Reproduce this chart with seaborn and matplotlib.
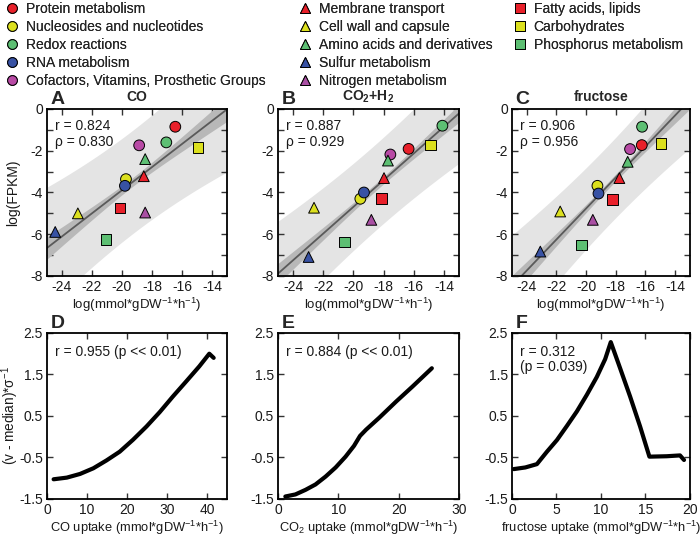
import numpy as np
import pandas as pd
import matplotlib
matplotlib.use("Agg")
import matplotlib.pyplot as plt
from matplotlib.lines import Line2D
import seaborn as sns

# ── data ─────────────────────────────────────────────────────────────────────
categories = ["Protein metabolism", "Nucleosides and nucleotides", "Redox reactions",
              "RNA metabolism", "Cofactors, Vitamins, Prosthetic Groups",
              "Membrane transport", "Cell wall and capsule", "Amino acids and derivatives",
              "Sulfur metabolism", "Nitrogen metabolism",
              "Fatty acids, lipids", "Carbohydrates", "Phosphorus metabolism"]
cat_colors = ["#E8202A", "#DCE01E", "#5DBF73", "#3852A4", "#B84AA5",
              "#E8202A", "#DCE01E", "#5DBF73", "#3852A4", "#A94FA3",
              "#E8202A", "#DCE01E", "#5DBF73"]
cat_markers = ["o"] * 5 + ["^"] * 5 + ["s"] * 3

# top row: log(flux) vs log(FPKM), one value per category
co_x = [-16.44, -19.73, -17.04, -19.80, -18.85, -18.54, -22.94, -18.45, -24.45, -18.45, -20.13, -14.93, -21.06]
co_y = [-0.85, -3.36, -1.60, -3.68, -1.74, -3.22, -5.00, -2.40, -5.89, -4.96, -4.74, -1.84, -6.24]
h2_x = [-16.34, -19.54, -14.10, -19.30, -17.55, -17.97, -22.61, -17.71, -22.97, -18.81, -18.13, -14.88, -20.60]
h2_y = [-1.91, -4.30, -0.80, -4.00, -2.18, -3.31, -4.73, -2.47, -7.09, -5.31, -4.30, -1.72, -6.37]
fru_x = [-16.25, -19.24, -16.23, -19.17, -17.04, -17.76, -21.75, -17.20, -23.09, -19.55, -18.23, -14.96, -20.29]
fru_y = [-1.73, -3.68, -0.85, -4.05, -1.92, -3.31, -4.91, -2.53, -6.83, -5.31, -4.35, -1.65, -6.51]

top_titles = ["CO", r"CO$_{\mathregular{2}}$+H$_{\mathregular{2}}$", "fructose"]
top_letters = ["A", "B", "C"]
top_stats = ["r = 0.824\nρ = 0.830", "r = 0.887\nρ = 0.929", "r = 0.906\nρ = 0.956"]

# t multipliers for the prediction band (light) and fit band (dark)
pi_t = 2.201
ci_t = 0.7

# bottom row: z-score vs uptake
co_up = [1.66, 4.97, 8.28, 11.6, 14.9, 18.2, 21.5, 24.9, 28.2, 31.5, 34.8, 38.1, 40.6, 41.7]
co_z = [-1.025, -0.985, -0.896, -0.76, -0.57, -0.36, -0.075, 0.247, 0.593, 0.97, 1.33, 1.695, 2.0, 1.9]
h2_up = [1.22, 2.89, 4.56, 6.22, 7.89, 9.56, 11.2, 12.6, 13.6, 14.6, 16.8, 19.6, 22.3, 25.5]
h2_z = [-1.44, -1.39, -1.28, -1.15, -0.96, -0.74, -0.48, -0.22, 0.02, 0.17, 0.46, 0.85, 1.21, 1.65]
fru_up = [0.19, 1.5, 2.8, 3.93, 5.05, 6.17, 7.29, 8.41, 9.53, 10.47, 11.1, 12.15, 13.27, 14.39,
          15.44, 17.38, 18.88, 19.33]
fru_z = [-0.78, -0.74, -0.66, -0.36, -0.08, 0.26, 0.61, 1.01, 1.44, 1.87, 2.28, 1.65, 0.97, 0.25,
         -0.48, -0.47, -0.45, -0.56]

bot_letters = ["D", "E", "F"]
bot_stats = ["r = 0.955 (p << 0.01)", "r = 0.884 (p << 0.01)", "r = 0.312\n(p = 0.039)"]
bot_xlabels = [r"CO uptake (mmol*gDW$^{\mathregular{-1}}$*h$^{\mathregular{-1}}$)",
               r"CO$_{\mathregular{2}}$ uptake (mmol*gDW$^{\mathregular{-1}}$*h$^{\mathregular{-1}}$)",
               r"fructose uptake (mmol*gDW$^{\mathregular{-1}}$*h$^{\mathregular{-1}}$)"]
bot_xmax = [45, 30, 20]
bot_xticks = [[0, 10, 20, 30, 40], [0, 10, 20, 30], [0, 5, 10, 15, 20]]

# ── style ────────────────────────────────────────────────────────────────────
sns.set_theme(style="ticks")
plt.rcParams["font.family"] = ["Liberation Sans", "DejaVu Sans"]
plt.rcParams["mathtext.fontset"] = "custom"
plt.rcParams["mathtext.rm"] = "Liberation Sans"
plt.rcParams["axes.unicode_minus"] = False

pal = dict(zip(categories, cat_colors))
mk = dict(zip(categories, cat_markers))
txt_col = "#1a1a1a"


def frame(ax):
    for sp in ax.spines.values():
        sp.set_visible(True)
        sp.set_linewidth(1.3)
        sp.set_color("black")
    ax.tick_params(direction="in", top=True, right=True, length=4, width=1,
                   labelsize=10, labelcolor=txt_col, color="#333333", pad=3)


fig = plt.figure(figsize=(7, 5.38), dpi=100)
lefts = [0.0671, 0.3971, 0.7314]
widths = [0.257, 0.2586, 0.2543]
xlab_top = r"log(mmol*gDW$^{\mathregular{-1}}$*h$^{\mathregular{-1}}$)"

# ── top row ──────────────────────────────────────────────────────────────────
xs = np.linspace(-25, -13, 200)
for i, (px, py) in enumerate([(co_x, co_y), (h2_x, h2_y), (fru_x, fru_y)]):
    ax = fig.add_axes([lefts[i], 0.487, widths[i], 0.3104])
    x = np.asarray(px)
    y = np.asarray(py)
    n = len(x)
    b, a = np.polyfit(x, y, 1)
    s = np.sqrt(((y - (a + b * x)) ** 2).sum() / (n - 2))
    lev = 1 / n + (xs - x.mean()) ** 2 / ((x - x.mean()) ** 2).sum()
    yfit = a + b * xs
    ax.fill_between(xs, yfit - pi_t * s * np.sqrt(1 + lev), yfit + pi_t * s * np.sqrt(1 + lev),
                    color="#E4E4E4", lw=0, zorder=0)
    ax.fill_between(xs, yfit - ci_t * s * np.sqrt(lev), yfit + ci_t * s * np.sqrt(lev),
                    color="#B8B8B8", lw=0, zorder=1)
    ax.plot(xs, yfit, color="#5A5A5A", lw=1.3, zorder=2)

    df = pd.DataFrame({"x": px, "y": py, "category": categories})
    sns.scatterplot(data=df, x="x", y="y", hue="category", style="category",
                    palette=pal, markers=mk, s=60, edgecolor="black", linewidth=0.7,
                    legend=False, ax=ax, zorder=3)
    ax.set_xlim(-25, -13)
    ax.set_ylim(-8, 0)
    ax.set_xticks(range(-24, -13, 2))
    ax.set_yticks(range(-8, 1))
    ax.set_yticklabels([str(v) if v % 2 == 0 else "" for v in range(-8, 1)])
    frame(ax)
    ax.set_xlabel(xlab_top, fontsize=9.5, color=txt_col, labelpad=1)
    ax.set_ylabel("log(FPKM)" if i == 0 else "", fontsize=10, color=txt_col)
    ax.yaxis.set_label_coords(-0.15, 0.5)
    ax.set_title(top_titles[i], fontsize=10, fontweight="bold", pad=6)
    ax.text(0.02, 1.03, top_letters[i], transform=ax.transAxes, fontsize=14,
            fontweight="bold", va="baseline", ha="left")
    ax.text(0.045, 0.94, top_stats[i], transform=ax.transAxes, fontsize=10,
            va="top", ha="left", linespacing=1.15, color=txt_col)

# ── bottom row ───────────────────────────────────────────────────────────────
for i, (ux, uz) in enumerate([(co_up, co_z), (h2_up, h2_z), (fru_up, fru_z)]):
    ax = fig.add_axes([lefts[i], 0.0725, widths[i], 0.3086])
    sns.lineplot(x=ux, y=uz, sort=False, color="black", lw=3, ax=ax)
    ax.set_xlim(0, bot_xmax[i])
    ax.set_ylim(-1.5, 2.5)
    ax.set_xticks(bot_xticks[i])
    ax.set_yticks([-1.5, -0.5, 0.5, 1.5, 2.5])
    frame(ax)
    ax.set_xlabel(bot_xlabels[i], fontsize=9.3, color=txt_col, labelpad=1)
    ax.set_ylabel(r"(v - median)*σ$^{\mathregular{-1}}$" if i == 0 else "",
                  fontsize=9.8, color=txt_col)
    ax.yaxis.set_label_coords(-0.145, 0.5)
    ax.text(0.02, 1.03, bot_letters[i], transform=ax.transAxes, fontsize=14,
            fontweight="bold", va="baseline", ha="left")
    ax.text(0.045, 0.93, bot_stats[i], transform=ax.transAxes, fontsize=10,
            va="top", ha="left", linespacing=1.1, color=txt_col)

# ── legend: one column per marker shape ─────────────────────────────────────
handles = [Line2D([], [], ls="", marker=m, color=c, markeredgecolor="black",
                  markeredgewidth=0.7, markersize=7)
           for m, c in zip(cat_markers, cat_colors)]
groups = [(0, 5, 0.0), (5, 10, 0.4186), (10, 13, 0.7257)]
for lo, hi, x0 in groups:
    leg = fig.legend(handles[lo:hi], categories[lo:hi], loc="upper left",
                     bbox_to_anchor=(x0, 1.006), frameon=False, fontsize=10,
                     handlelength=1.0, handletextpad=0.5, labelspacing=0.3,
                     borderaxespad=0, borderpad=0.35)
    fig.add_artist(leg)

fig.savefig("out.png", dpi=100)
